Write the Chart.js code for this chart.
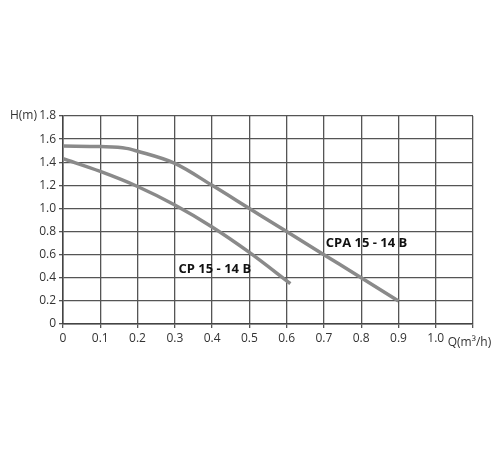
<!DOCTYPE html><html><head><style>body{margin:0;background:#fff}#w{width:500px;height:450px}</style>
<script src="https://cdn.jsdelivr.net/npm/chart.js@4/dist/chart.umd.min.js"></script></head><body><div id="w"><canvas id="c"></canvas></div>
<script>
const cpaQ=[0,0.1,0.17,0.2,0.3,0.4,0.5,0.6,0.7,0.8,0.9];
const cpaH=[1.54,1.535,1.52,1.495,1.39,1.2,1.0,0.8,0.6,0.4,0.2];
const cpQ=[0,0.1,0.2,0.3,0.4,0.5,0.61];
const cpH=[1.43,1.32,1.19,1.03,0.84,0.62,0.35];
const labels=[{t:'CPA 15 - 14 B',x:0.705,y:0.7},{t:'CP 15 - 14 B',x:0.31,y:0.47}];
const toPts=(q,h)=>q.map((v,i)=>({x:v,y:h[i]}));
const txt={id:'txt',afterDraw(ch){const c=ch.ctx,x=ch.scales.x,y=ch.scales.y;c.save();c.fillStyle='#111';c.font='bold 13px "Open Sans"';c.textBaseline='middle';
labels.forEach(l=>c.fillText(l.t,x.getPixelForValue(l.x),y.getPixelForValue(l.y)));
c.font='12px "Open Sans"';c.fillStyle='#333';c.textAlign='right';c.fillText('H(m)',37,y.getPixelForValue(1.8));
c.textAlign='left';c.fillText('Q(m³/h)',x.getPixelForValue(1.0)+12,y.bottom+19);c.restore();}};
new Chart(document.getElementById('c'),{type:'scatter',data:{datasets:[
{data:toPts(cpaQ,cpaH),showLine:true,borderColor:'#8a8a8a',borderWidth:3.5,pointRadius:0,cubicInterpolationMode:'monotone'},
{data:toPts(cpQ,cpH),showLine:true,borderColor:'#8a8a8a',borderWidth:3.5,pointRadius:0,cubicInterpolationMode:'monotone'}]},
options:{responsive:true,maintainAspectRatio:false,animation:false,layout:{padding:{left:0,right:27,top:116,bottom:96}},
plugins:{legend:{display:false},tooltip:{enabled:false}},
scales:{x:{type:'linear',min:0,max:1.1,afterFit(s){s.height=30},border:{color:'#444',width:1.5},
grid:{color:'#555',lineWidth:1.3,tickLength:4},ticks:{stepSize:0.1,color:'#333',font:{family:'Open Sans',size:12},maxRotation:0,
callback:v=>{v=Math.round(v*10)/10;return v>1.05?'':(v===0?'0':v.toFixed(1));}}},
y:{min:0,max:1.8,afterFit(s){s.width=63},border:{color:'#444',width:1.5},grid:{color:'#555',lineWidth:1.3,tickLength:4},
ticks:{stepSize:0.2,color:'#333',font:{family:'Open Sans',size:12},callback:v=>{v=Math.round(v*10)/10;return v===0?'0':v.toFixed(1);}}}}},plugins:[txt]});
</script></body></html>
